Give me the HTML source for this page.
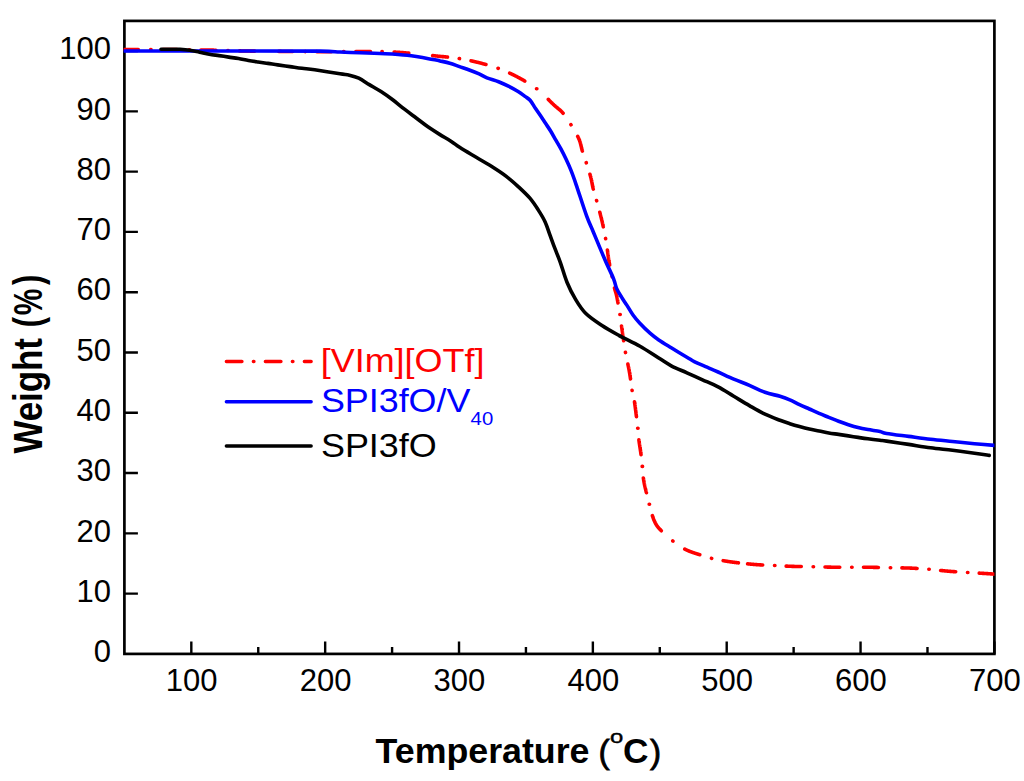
<!DOCTYPE html>
<html><head><meta charset="utf-8"><style>
html,body{margin:0;padding:0;background:#fff;width:1024px;height:781px;overflow:hidden;}
svg{display:block;font-family:"Liberation Sans",sans-serif;}
</style></head><body>
<svg width="1024" height="781" viewBox="0 0 1024 781">
<rect width="1024" height="781" fill="#fff"/>
<defs><clipPath id="cp"><rect x="123.60" y="20.90" width="870.80" height="633.00"/></clipPath></defs>
<path d="M191.32,653.90V641.40M325.17,653.90V641.40M459.02,653.90V641.40M592.86,653.90V641.40M726.71,653.90V641.40M860.55,653.90V641.40M994.40,653.90V641.40M258.25,653.90V646.90M392.09,653.90V646.90M525.94,653.90V646.90M659.78,653.90V646.90M793.63,653.90V646.90M927.48,653.90V646.90M124.40,593.61H137.90M124.40,533.33H137.90M124.40,473.04H137.90M124.40,412.76H137.90M124.40,352.47H137.90M124.40,292.19H137.90M124.40,231.90H137.90M124.40,171.61H137.90M124.40,111.33H137.90M124.40,51.04H137.90" stroke="#000" stroke-width="2.4" fill="none"/>
<rect x="124.40" y="20.90" width="870.00" height="633.00" fill="none" stroke="#000" stroke-width="2.7"/>
<g clip-path="url(#cp)" fill="none" stroke-linejoin="round">
<path d="M124.40,49.50L124.71,49.50L125.04,49.50L125.38,49.50L125.75,49.50L126.14,49.50L126.54,49.50L126.97,49.50L127.41,49.50L127.86,49.50L128.34,49.50L128.83,49.50L129.33,49.50L129.85,49.49L130.38,49.49L130.93,49.49L131.49,49.49L132.06,49.49L132.64,49.49L133.23,49.49L133.84,49.49L134.45,49.49L135.07,49.49L135.71,49.49L136.35,49.49L136.99,49.48L137.65,49.48L138.31,49.48M150.66,49.48h0.4M162.71,49.51L163.25,49.52L163.78,49.52L164.32,49.52L164.85,49.53L165.38,49.53L165.91,49.54L166.44,49.54L166.96,49.54L167.49,49.55L168.01,49.55L168.53,49.56L169.05,49.56L169.57,49.56L170.09,49.57L170.60,49.57L171.11,49.58L171.62,49.58L172.13,49.59L172.64,49.59L173.15,49.60L173.66,49.60L174.16,49.61L174.66,49.61L175.16,49.62L175.66,49.62L176.16,49.63L176.66,49.64L177.15,49.64M189.08,49.79h0.4M200.92,49.95L201.31,49.95L201.71,49.96L202.10,49.96L202.50,49.97L202.90,49.97L203.29,49.98L203.69,49.99L204.08,49.99L204.48,50.00L204.88,50.01L205.28,50.01L205.68,50.02L206.08,50.03L206.48,50.03L206.88,50.04L207.29,50.05L207.70,50.05L208.11,50.06L208.52,50.07L208.93,50.08L209.34,50.08L209.76,50.09L210.18,50.10L210.60,50.11L211.03,50.12L211.45,50.13L211.89,50.13L212.32,50.14L212.76,50.15L213.20,50.16L213.64,50.17L214.09,50.18L214.54,50.19L215.00,50.20L215.46,50.21L215.91,50.22M227.80,50.56h0.4M239.64,50.89L240.21,50.91L240.79,50.92L241.37,50.93L241.96,50.94L242.55,50.95L243.16,50.97L243.76,50.98L244.38,50.99L245.00,51.00L245.63,51.01L246.27,51.02L246.92,51.03L247.57,51.04L248.24,51.05L248.91,51.06L249.60,51.07L250.29,51.08L250.98,51.09L251.69,51.10L252.40,51.11L253.12,51.12L253.84,51.13L254.58,51.14M278.75,51.40L279.53,51.41L280.31,51.42L281.08,51.42L281.85,51.43L282.62,51.44L283.38,51.44L284.13,51.45L284.89,51.46L285.63,51.46L286.38,51.47L287.11,51.48L287.84,51.48L288.57,51.49L289.29,51.49L290.00,51.50L290.71,51.51L291.41,51.51L292.11,51.52L292.81,51.52M305.03,51.61h0.4M316.85,51.67L317.50,51.68L318.16,51.68L318.81,51.68L319.46,51.68L320.12,51.69L320.77,51.69L321.43,51.69L322.08,51.69L322.74,51.69L323.39,51.69L324.05,51.69L324.71,51.70L325.36,51.70L326.02,51.70L326.68,51.70L327.34,51.70L328.01,51.70L328.67,51.70L329.33,51.70L330.00,51.70L330.67,51.70L331.35,51.70M343.55,51.66h0.4M355.86,51.58L356.55,51.57L357.24,51.57L357.91,51.56L358.59,51.56L359.25,51.55L359.90,51.55L360.55,51.55L361.19,51.54L361.82,51.54L362.44,51.53L363.06,51.53L363.66,51.53L364.25,51.52L364.83,51.52L365.40,51.52L365.96,51.51L366.51,51.51L367.05,51.51L367.57,51.51L368.09,51.51L368.58,51.50L369.07,51.50L369.54,51.50L370.00,51.50L370.44,51.50M381.96,51.52L382.20,51.53M394.14,52.07L394.53,52.09L394.91,52.12L395.30,52.14L395.69,52.16L396.09,52.19L396.48,52.21L396.88,52.23L397.29,52.26L397.69,52.28L398.10,52.31L398.51,52.34L398.92,52.36L399.34,52.39L399.76,52.42L400.18,52.45L400.60,52.48L401.03,52.51L401.46,52.54L401.89,52.57L402.33,52.60L402.77,52.64L403.21,52.67L403.65,52.70L404.10,52.74L404.55,52.77L405.00,52.81L405.45,52.85L405.91,52.88L406.37,52.92L406.83,52.96L407.30,53.00L407.77,53.04L408.26,53.08L408.76,53.13M432.65,55.60L433.20,55.66L433.73,55.71L434.25,55.77L434.77,55.83L435.27,55.88L435.76,55.93L436.24,55.98L436.70,56.03L437.15,56.08L437.59,56.13L438.01,56.17L438.41,56.22L438.81,56.26L439.18,56.30L439.54,56.33L439.88,56.37L440.20,56.40L440.50,56.43L440.79,56.46L441.06,56.49L441.31,56.51L441.55,56.53L441.77,56.56L441.97,56.57L442.16,56.59L442.34,56.61L442.50,56.62L442.65,56.64L442.79,56.65L442.91,56.66L443.02,56.67L443.13,56.68L443.22,56.69L443.30,56.69L443.37,56.70L443.43,56.70L443.49,56.70L443.54,56.71L443.58,56.71L443.61,56.71L443.64,56.71L443.66,56.71L443.67,56.71L443.68,56.71L443.69,56.70L443.69,56.70L443.69,56.70L443.69,56.70L443.69,56.69L443.68,56.69L443.67,56.69L443.67,56.69L443.66,56.68L443.65,56.68L443.65,56.68L443.65,56.68L443.64,56.67L443.65,56.67L443.65,56.67L443.66,56.67L443.67,56.67L443.69,56.67L443.71,56.67L443.74,56.68L443.78,56.68L443.82,56.68L443.87,56.69L443.93,56.69L443.99,56.70L444.07,56.71L444.16,56.72L444.25,56.73L444.36,56.74L444.48,56.75L444.60,56.77L444.75,56.78L444.90,56.80L445.06,56.82L445.23,56.84L445.40,56.86L445.58,56.87L445.75,56.89L445.94,56.91L446.12,56.93L446.31,56.95L446.51,56.97L446.70,56.99L446.90,57.01L447.11,57.03L447.31,57.05L447.52,57.08M459.22,58.55L459.50,58.60M471.03,60.82L471.37,60.89L471.71,60.97L472.05,61.04L472.39,61.11L472.73,61.19L473.07,61.27L473.41,61.34L473.75,61.42L474.09,61.49L474.43,61.57L474.77,61.65L475.11,61.73L475.44,61.81L475.78,61.89L476.12,61.97L476.45,62.05L476.79,62.13L477.12,62.21L477.45,62.29L477.79,62.37L478.12,62.45L478.45,62.53L478.77,62.62L479.10,62.70L479.43,62.78L479.75,62.87L480.08,62.95L480.40,63.04L480.73,63.12L481.05,63.20L481.38,63.29L481.71,63.37L482.03,63.46L482.36,63.55L482.68,63.63L483.01,63.72L483.33,63.81L483.66,63.89L483.98,63.98L484.31,64.07L484.63,64.16L484.96,64.25L485.28,64.34L485.61,64.43L485.93,64.52M497.95,68.36h0.4M509.64,73.13L509.97,73.28L510.29,73.43L510.62,73.58L510.94,73.73L511.27,73.88L511.59,74.03L511.92,74.18L512.24,74.34L512.57,74.49L512.89,74.65L513.22,74.81L513.54,74.96L513.87,75.12L514.19,75.28L514.52,75.45L514.84,75.61L515.17,75.77L515.49,75.94L515.82,76.10L516.15,76.27L516.47,76.44L516.80,76.61L517.12,76.78L517.45,76.95L517.77,77.13L518.10,77.30L518.43,77.48L518.75,77.65L519.08,77.83L519.41,78.01L519.74,78.19L520.07,78.37L520.40,78.55L520.74,78.74L521.07,78.92L521.40,79.11L521.74,79.30L522.07,79.48L522.40,79.67L522.74,79.86L523.07,80.05L523.41,80.25L523.75,80.44L524.08,80.63L524.42,80.83L524.76,81.03M536.49,88.69h0.4M548.30,99.36L548.57,99.63L548.83,99.89L549.09,100.15L549.35,100.41L549.60,100.67L549.86,100.93L550.11,101.18L550.36,101.43L550.60,101.68L550.85,101.93L551.09,102.17L551.33,102.41L551.57,102.64L551.80,102.88L552.04,103.11L552.27,103.33L552.49,103.55L552.72,103.77L552.94,103.99L553.16,104.20L553.38,104.40L553.59,104.60L553.80,104.80L554.01,104.99L554.21,105.18L554.41,105.36L554.61,105.54L554.80,105.71L554.99,105.88L555.18,106.05L555.36,106.21L555.54,106.37L555.72,106.52L555.90,106.67L556.07,106.82L556.24,106.96L556.41,107.10L556.57,107.24L556.73,107.38L556.89,107.51L557.05,107.64L557.21,107.77L557.36,107.89L557.51,108.02L557.66,108.14L557.81,108.26L557.95,108.38L558.10,108.50L558.24,108.61L558.38,108.73L558.52,108.84L558.66,108.96L558.80,109.07L558.94,109.18L559.07,109.29L559.21,109.41L559.34,109.52L559.47,109.63L559.61,109.74L559.74,109.85L559.87,109.97L560.00,110.08L560.13,110.20L560.26,110.31L560.39,110.43L560.52,110.55L560.65,110.67L560.78,110.79L560.91,110.91L561.04,111.04L561.17,111.16L561.30,111.29L561.43,111.42L561.57,111.56L561.70,111.69L561.83,111.83L561.97,111.98L562.10,112.12L562.24,112.27L562.38,112.42L562.52,112.58L562.66,112.74L562.80,112.90L562.94,113.07L563.08,113.23M570.90,124.60L571.03,124.82M577.70,136.35L577.82,136.58L577.94,136.82L578.05,137.06L578.17,137.29L578.28,137.53L578.39,137.76L578.49,137.99L578.60,138.22L578.70,138.45L578.80,138.68L578.90,138.90L579.00,139.12L579.09,139.35L579.18,139.57L579.27,139.79L579.35,140.02L579.44,140.24L579.52,140.46L579.60,140.68L579.68,140.90L579.75,141.12L579.83,141.34L579.90,141.56L579.97,141.78L580.04,142.00L580.11,142.21L580.18,142.43L580.24,142.65L580.30,142.86L580.37,143.08L580.43,143.30L580.49,143.51L580.54,143.73L580.60,143.94L580.66,144.15L580.71,144.37L580.77,144.58L580.82,144.79L580.87,145.00L580.92,145.21L580.97,145.43L581.03,145.64L581.08,145.84L581.13,146.05L581.17,146.26L581.22,146.47L581.27,146.68L581.32,146.89L581.37,147.09L581.42,147.30L581.46,147.50L581.51,147.71L581.56,147.91L581.61,148.12L581.65,148.32L581.70,148.52L581.75,148.73L581.80,148.93L581.85,149.13L581.90,149.33L581.95,149.53L582.00,149.73L582.05,149.93L582.11,150.13L582.16,150.32L582.21,150.52L582.27,150.72L582.33,150.91L582.38,151.11M586.24,162.62L586.31,162.84M589.94,174.27L590.01,174.51L590.08,174.75L590.15,174.98L590.22,175.22L590.29,175.45L590.35,175.69L590.41,175.92L590.48,176.15L590.54,176.37L590.60,176.60L590.66,176.82L590.72,177.05L590.78,177.27L590.83,177.49L590.89,177.71L590.94,177.93L590.99,178.15L591.05,178.37L591.10,178.59L591.15,178.81L591.20,179.03L591.25,179.24L591.30,179.46L591.34,179.67L591.39,179.89L591.44,180.10L591.48,180.32L591.53,180.53L591.57,180.74L591.61,180.96L591.66,181.17L591.70,181.38L591.74,181.59L591.79,181.80L591.83,182.01L591.87,182.22L591.91,182.43L591.95,182.63L591.99,182.84L592.03,183.05L592.07,183.26L592.11,183.46L592.15,183.67L592.19,183.87L592.23,184.08L592.27,184.28L592.31,184.49L592.35,184.69L592.39,184.90L592.43,185.10L592.47,185.30L592.51,185.51L592.55,185.71L592.59,185.91L592.63,186.11L592.67,186.31L592.71,186.51L592.76,186.71L592.80,186.91L592.84,187.11L592.89,187.31L592.93,187.51L592.97,187.71L593.02,187.91L593.06,188.11L593.11,188.31L593.16,188.51L593.20,188.70L593.25,188.90L593.30,189.10M596.57,200.57L596.65,200.84M599.79,212.28L599.89,212.65L599.99,213.02L600.09,213.39L600.19,213.76L600.28,214.13L600.38,214.51L600.48,214.88L600.57,215.25L600.67,215.62L600.76,215.99L600.86,216.35L600.95,216.72L601.05,217.09L601.14,217.45L601.23,217.81L601.32,218.18L601.41,218.54L601.50,218.90L601.58,219.25L601.67,219.61L601.75,219.96L601.84,220.31L601.92,220.66L602.00,221.00L602.08,221.34L602.16,221.69L602.24,222.03L602.32,222.37L602.39,222.72L602.47,223.06L602.55,223.40L602.63,223.74L602.70,224.09L602.78,224.43L602.85,224.77L602.93,225.11L603.00,225.45L603.08,225.80L603.15,226.14L603.22,226.48L603.30,226.82M605.56,238.43L605.62,238.77M607.38,250.01L607.43,250.37L607.48,250.73L607.53,251.09L607.58,251.44L607.63,251.80L607.67,252.16L607.72,252.51L607.77,252.86L607.82,253.22L607.87,253.57L607.91,253.92L607.96,254.27L608.01,254.62L608.05,254.96L608.10,255.31L608.15,255.65L608.20,255.99L608.24,256.33L608.29,256.66L608.34,257.00L608.38,257.33L608.43,257.66L608.48,257.99L608.52,258.32L608.57,258.64L608.62,258.96L608.67,259.28L608.71,259.59L608.76,259.90L608.81,260.21L608.86,260.52L608.91,260.82L608.95,261.12L609.00,261.42L609.05,261.71L609.10,262.00L609.15,262.29L609.20,262.57L609.25,262.85L609.30,263.13L609.35,263.40L609.40,263.67L609.45,263.94L609.49,264.21L609.54,264.47L609.59,264.73L609.64,264.99M612.09,276.43L612.13,276.65M614.50,288.00L614.54,288.17L614.58,288.34L614.62,288.51L614.66,288.67L614.70,288.83L614.74,288.98L614.78,289.14L614.82,289.29L614.86,289.43L614.90,289.58L614.94,289.72L614.98,289.86L615.02,290.00L615.06,290.13L615.10,290.27L615.13,290.40L615.17,290.53L615.21,290.66L615.25,290.79L615.29,290.92L615.33,291.05L615.37,291.17L615.40,291.30L615.44,291.42L615.48,291.55L615.52,291.67L615.56,291.80L615.60,291.92L615.64,292.05L615.67,292.18L615.71,292.30L615.75,292.43L615.79,292.56L615.83,292.69L615.87,292.82L615.91,292.95L615.95,293.09L615.99,293.22L616.03,293.36L616.07,293.50L616.11,293.65L616.15,293.79L616.19,293.94L616.23,294.09L616.27,294.24L616.31,294.40L616.35,294.56L616.39,294.72L616.43,294.89L616.47,295.06L616.51,295.23L616.56,295.41L616.60,295.59L616.64,295.78L616.68,295.97L616.73,296.17L616.77,296.37L616.81,296.57L616.86,296.78L616.90,297.00L616.94,297.22L616.99,297.44L617.03,297.67L617.08,297.90L617.12,298.14L617.17,298.38L617.22,298.62L617.26,298.87L617.31,299.12L617.36,299.37L617.40,299.62L617.45,299.88L617.50,300.14L617.54,300.41L617.59,300.68L617.64,300.95L617.69,301.22L617.74,301.49L617.78,301.77L617.83,302.05L617.88,302.33L617.93,302.62L617.98,302.91M619.85,314.50h0.4M621.52,325.95L621.57,326.27L621.62,326.60L621.66,326.93L621.71,327.25L621.76,327.58L621.80,327.90L621.85,328.23L621.90,328.55L621.94,328.88L621.99,329.20L622.04,329.53L622.08,329.85L622.13,330.18L622.18,330.50L622.22,330.82L622.27,331.15L622.32,331.47L622.36,331.79L622.41,332.12L622.46,332.44L622.51,332.76L622.55,333.08L622.60,333.40L622.65,333.72L622.69,334.04L622.74,334.36L622.79,334.68L622.83,335.00L622.88,335.32L622.93,335.64L622.97,335.96L623.02,336.28L623.07,336.60L623.11,336.92L623.16,337.24L623.20,337.56L623.25,337.88L623.29,338.20L623.34,338.52L623.39,338.84L623.43,339.16L623.48,339.48L623.52,339.80L623.57,340.12L623.61,340.44L623.66,340.76M625.44,352.28L625.50,352.60M627.87,364.12L627.94,364.44L628.01,364.76L628.08,365.08L628.14,365.40L628.21,365.72L628.28,366.04L628.35,366.36L628.41,366.68L628.48,367.00L628.54,367.32L628.61,367.64L628.67,367.96L628.74,368.28L628.80,368.60L628.87,368.92L628.93,369.24L628.99,369.56L629.05,369.88L629.11,370.20L629.17,370.52L629.23,370.84L629.29,371.16L629.34,371.48L629.40,371.80L629.46,372.12L629.51,372.45L629.57,372.77L629.62,373.10L629.67,373.43L629.73,373.77L629.78,374.10L629.83,374.44L629.89,374.78L629.94,375.12L629.99,375.46L630.04,375.80L630.09,376.15L630.15,376.49L630.20,376.84L630.25,377.19L630.30,377.53L630.35,377.88L630.40,378.23L630.44,378.58L630.49,378.93M632.08,390.27L632.12,390.52M634.49,401.86L634.53,402.10L634.57,402.35L634.60,402.60L634.64,402.86L634.68,403.11L634.72,403.37L634.75,403.63L634.79,403.90L634.83,404.17L634.87,404.44L634.91,404.71L634.94,404.98L634.98,405.26L635.02,405.54L635.06,405.82L635.10,406.10L635.14,406.39L635.18,406.67L635.21,406.96L635.25,407.26L635.29,407.55L635.33,407.84L635.37,408.14L635.41,408.44L635.45,408.74L635.49,409.04L635.53,409.35L635.57,409.65L635.60,409.96L635.64,410.27L635.68,410.57L635.72,410.89L635.76,411.20L635.80,411.51L635.84,411.82L635.88,412.14L635.92,412.46L635.96,412.77L636.00,413.09L636.04,413.41L636.07,413.73L636.11,414.05L636.15,414.38L636.19,414.70L636.23,415.02L636.27,415.35L636.31,415.67L636.35,416.00L636.38,416.32L636.42,416.65M637.65,428.32h0.4M638.88,439.82L638.91,440.13L638.95,440.43L638.99,440.72L639.03,441.01L639.07,441.30L639.11,441.58L639.14,441.86L639.18,442.14L639.22,442.41L639.26,442.68L639.30,442.95L639.34,443.21L639.37,443.47L639.41,443.73L639.45,443.99L639.49,444.24L639.53,444.49L639.57,444.74L639.60,444.99L639.64,445.24L639.68,445.48L639.72,445.73L639.76,445.97L639.80,446.21L639.84,446.46L639.87,446.70L639.91,446.94L639.95,447.18L639.99,447.42L640.03,447.67L640.07,447.91L640.10,448.15L640.14,448.40L640.18,448.64L640.22,448.89L640.26,449.14L640.30,449.39L640.33,449.64L640.37,449.89L640.41,450.15L640.45,450.40L640.49,450.66L640.53,450.93L640.56,451.19L640.60,451.46L640.64,451.73L640.68,452.01L640.72,452.28L640.75,452.57L640.79,452.85L640.83,453.14L640.87,453.44L640.91,453.74L640.95,454.04L640.99,454.35L641.02,454.66M642.15,466.39h0.4M643.35,477.97L643.40,478.30L643.45,478.62L643.50,478.94L643.54,479.26L643.59,479.57L643.64,479.88L643.69,480.18L643.74,480.48L643.79,480.77L643.84,481.07L643.89,481.35L643.94,481.64L643.99,481.92L644.04,482.20L644.09,482.48L644.14,482.75L644.19,483.03L644.25,483.29L644.30,483.56L644.35,483.83L644.40,484.09L644.46,484.35L644.51,484.61L644.56,484.87L644.62,485.12L644.67,485.38L644.73,485.63L644.78,485.88L644.84,486.13L644.89,486.38L644.95,486.63L645.01,486.88L645.06,487.13L645.12,487.38L645.18,487.62L645.24,487.87L645.29,488.12L645.35,488.37L645.41,488.61L645.47,488.86L645.53,489.11L645.59,489.36L645.65,489.61L645.71,489.86L645.77,490.11L645.83,490.37L645.89,490.62L645.96,490.88L646.02,491.14L646.08,491.40L646.15,491.66L646.21,491.92L646.27,492.19L646.34,492.45L646.40,492.72M649.16,504.27h0.4M652.39,515.70L652.46,515.92L652.53,516.14L652.60,516.35L652.67,516.56L652.74,516.77L652.81,516.97L652.89,517.18L652.96,517.38L653.03,517.58L653.10,517.78L653.17,517.98L653.24,518.17L653.31,518.37L653.38,518.56L653.45,518.75L653.52,518.93L653.59,519.12L653.66,519.31L653.73,519.49L653.81,519.67L653.88,519.85L653.95,520.03L654.03,520.21L654.10,520.39L654.17,520.56L654.25,520.74L654.32,520.91L654.40,521.09L654.48,521.26L654.55,521.43L654.63,521.60L654.71,521.77L654.79,521.94L654.87,522.10L654.95,522.27L655.03,522.44L655.12,522.60L655.20,522.77L655.29,522.93L655.37,523.10L655.46,523.26L655.55,523.42L655.64,523.59L655.73,523.75L655.82,523.91L655.91,524.07L656.00,524.24L656.10,524.40L656.20,524.56L656.29,524.72L656.39,524.88L656.49,525.03L656.59,525.19L656.69,525.34L656.79,525.49L656.89,525.64L656.99,525.79L657.09,525.93L657.19,526.08L657.30,526.22L657.40,526.36L657.50,526.50L657.61,526.64L657.72,526.78L657.82,526.92L657.93,527.05L658.04,527.19L658.14,527.32L658.25,527.45L658.36,527.59L658.47,527.72L658.58,527.85L658.70,527.98L658.81,528.10L658.92,528.23L659.03,528.36L659.15,528.49L659.26,528.61L659.38,528.74L659.49,528.86L659.61,528.99L659.73,529.11L659.85,529.24L659.96,529.36L660.08,529.48L660.20,529.61L660.32,529.73L660.44,529.86L660.57,529.98L660.69,530.10L660.81,530.23L660.94,530.35L661.06,530.47L661.18,530.60L661.31,530.72M672.78,540.94L672.98,541.09M684.75,549.05L685.00,549.18L685.25,549.32L685.50,549.45L685.75,549.57L686.00,549.70L686.25,549.82L686.50,549.95L686.76,550.07L687.02,550.19L687.28,550.31L687.55,550.43L687.81,550.55L688.08,550.67L688.35,550.78L688.63,550.90L688.90,551.01L689.18,551.12L689.45,551.24L689.73,551.35L690.02,551.46L690.30,551.57L690.58,551.67L690.87,551.78L691.15,551.89L691.44,551.99L691.72,552.10L692.01,552.20L692.30,552.30L692.59,552.40L692.87,552.50L693.16,552.60L693.45,552.70L693.74,552.80L694.03,552.90L694.31,552.99L694.60,553.09L694.88,553.18L695.17,553.28L695.45,553.37L695.74,553.46L696.02,553.55L696.30,553.64L696.58,553.73L696.85,553.82L697.13,553.91L697.40,553.99L697.68,554.08L697.95,554.17L698.21,554.25L698.48,554.33L698.74,554.42L699.00,554.50L699.26,554.58L699.51,554.66L699.77,554.74M711.46,558.35L711.70,558.40M723.16,560.66L723.51,560.72L723.86,560.78L724.21,560.84L724.56,560.90L724.91,560.96L725.26,561.02L725.62,561.07L725.97,561.13L726.33,561.19L726.68,561.25L727.04,561.31L727.40,561.36L727.76,561.42L728.12,561.47L728.48,561.53L728.84,561.58L729.20,561.64L729.56,561.69L729.92,561.74L730.28,561.80L730.64,561.85L731.00,561.90L731.36,561.95L731.73,562.00L732.10,562.05L732.47,562.10L732.85,562.15L733.23,562.20L733.61,562.25L734.00,562.30L734.39,562.35L734.78,562.40L735.18,562.45L735.58,562.50L735.98,562.55L736.38,562.60L736.78,562.65L737.19,562.70L737.60,562.75L738.01,562.80L738.42,562.84M747.59,563.83L748.00,563.87L748.41,563.91L748.82,563.94L749.23,563.98L749.63,564.02L750.03,564.06L750.43,564.10L750.83,564.13L751.22,564.17L751.62,564.21L752.00,564.24L752.39,564.27L752.77,564.31L753.15,564.34L753.53,564.37L753.90,564.41L754.27,564.44L754.64,564.47L755.00,564.50L755.36,564.53L755.71,564.56L756.07,564.59L756.42,564.61L756.77,564.64L757.11,564.67L757.46,564.69L757.80,564.71L758.14,564.74L758.48,564.76L758.81,564.78L759.14,564.80L759.48,564.82L759.80,564.85L760.13,564.86L760.46,564.88L760.78,564.90L761.11,564.92L761.43,564.94L761.75,564.96L762.07,564.97L762.38,564.99L762.70,565.00M774.52,565.52h0.4M786.17,566.10L786.49,566.12L786.82,566.13L787.14,566.15L787.46,566.16L787.79,566.18L788.11,566.19L788.44,566.21L788.76,566.22L789.08,566.23L789.41,566.25L789.73,566.26L790.05,566.27L790.38,566.29L790.70,566.30L791.02,566.31L791.34,566.32L791.67,566.33L791.99,566.35L792.31,566.36L792.63,566.37L792.96,566.38L793.28,566.39L793.60,566.40L793.92,566.41L794.24,566.42L794.56,566.43L794.88,566.44L795.21,566.45L795.53,566.45L795.85,566.46L796.17,566.47L796.49,566.48L796.80,566.48L797.12,566.49L797.44,566.50L797.76,566.50L798.08,566.51L798.40,566.51L798.72,566.52L799.04,566.52L799.36,566.53L799.67,566.53L799.99,566.54L800.31,566.54L800.63,566.55L800.95,566.55L801.27,566.55M813.13,566.71h0.4M825.01,567.03L825.34,567.04L825.68,567.05L826.01,567.06L826.34,567.06L826.67,567.07L827.00,567.08L827.33,567.09L827.66,567.10L827.99,567.11L828.33,567.11L828.66,567.12L828.99,567.13L829.32,567.14L829.65,567.14L829.98,567.15L830.30,567.16L830.63,567.17L830.96,567.17L831.29,567.18L831.62,567.18L831.95,567.19L832.27,567.19L832.60,567.20L832.93,567.20L833.25,567.21L833.58,567.21L833.91,567.22L834.23,567.22L834.56,567.23L834.88,567.23L835.21,567.23L835.53,567.24L835.86,567.24L836.18,567.24L836.51,567.25L836.83,567.25L837.16,567.25L837.48,567.26L837.80,567.26L838.13,567.26L838.45,567.26L838.78,567.26L839.10,567.27L839.42,567.27L839.75,567.27M851.68,567.30h0.4M863.51,567.27L863.83,567.27L864.15,567.27L864.48,567.27L864.80,567.27L865.12,567.27L865.44,567.27L865.76,567.27L866.08,567.27L866.41,567.27L866.73,567.27L867.05,567.27L867.38,567.27L867.70,567.27L868.03,567.27L868.35,567.27L868.68,567.28L869.00,567.28L869.33,567.28L869.66,567.28L869.98,567.29L870.31,567.29L870.64,567.29L870.97,567.30L871.30,567.30L871.63,567.30L871.96,567.31L872.29,567.31L872.63,567.32L872.96,567.32L873.30,567.33L873.63,567.34L873.97,567.34L874.31,567.35L874.64,567.36L874.98,567.36L875.32,567.37L875.66,567.38L876.00,567.39L876.34,567.39L876.68,567.40L877.02,567.41L877.37,567.42L877.71,567.43L878.05,567.44L878.39,567.45M890.29,567.77h0.4M901.92,567.91L902.23,567.91L902.53,567.91L902.84,567.92L903.15,567.92L903.45,567.92L903.76,567.93L904.07,567.93L904.37,567.94L904.68,567.94L904.99,567.95L905.30,567.95L905.61,567.96L905.92,567.97L906.22,567.97L906.53,567.98L906.84,567.99L907.16,567.99L907.47,568.00L907.78,568.01L908.09,568.02L908.40,568.03L908.72,568.04L909.03,568.05L909.35,568.06L909.67,568.07L909.98,568.09L910.30,568.10L910.62,568.11L910.94,568.13L911.26,568.14L911.58,568.16L911.90,568.17L912.22,568.19L912.54,568.20L912.86,568.22L913.18,568.24L913.50,568.25L913.82,568.27L914.15,568.29L914.47,568.30L914.79,568.32L915.12,568.34L915.44,568.36L915.76,568.38L916.09,568.40L916.41,568.42L916.74,568.44L917.06,568.46M928.82,569.32h0.4M940.64,570.46L940.96,570.49L941.29,570.53L941.62,570.56L941.95,570.60L942.28,570.63L942.60,570.66L942.93,570.70L943.26,570.73L943.58,570.76L943.91,570.80L944.24,570.83L944.56,570.86L944.89,570.89L945.21,570.92L945.54,570.96L945.86,570.99L946.18,571.02L946.51,571.05L946.83,571.08L947.15,571.11L947.48,571.14L947.80,571.16L948.12,571.19L948.44,571.22L948.76,571.25L949.08,571.27L949.40,571.30L949.72,571.33L950.04,571.35L950.36,571.38L950.67,571.40L950.99,571.42L951.31,571.45L951.62,571.47L951.94,571.50L952.25,571.52L952.57,571.54L952.88,571.56L953.20,571.59L953.51,571.61L953.82,571.63L954.14,571.65L954.45,571.67L954.76,571.69L955.07,571.71L955.38,571.74L955.70,571.76M967.48,572.46h0.4M979.23,573.15L979.56,573.17L979.89,573.19L980.22,573.21L980.54,573.23L980.86,573.25L981.18,573.26L981.50,573.28L981.81,573.30L982.12,573.32L982.42,573.33L982.72,573.35L983.02,573.37L983.31,573.39L983.60,573.40L983.89,573.42L984.17,573.44L984.44,573.45L984.71,573.47L984.98,573.48L985.24,573.50L985.49,573.51L985.74,573.53L985.99,573.54L986.22,573.56L986.46,573.57L986.68,573.59L986.90,573.60L987.11,573.61L987.32,573.63L987.53,573.64L987.73,573.65L987.92,573.66L988.12,573.68L988.30,573.69L988.49,573.70L988.67,573.71L988.84,573.72L989.01,573.74L989.18,573.75L989.35,573.76L989.51,573.77L989.66,573.78L989.82,573.79L989.97,573.80L990.11,573.81L990.26,573.82L990.40,573.83L990.53,573.84L990.67,573.85L990.80,573.86L990.92,573.87L991.05,573.88L991.17,573.89L991.29,573.89L991.40,573.90L991.51,573.91L991.62,573.92L991.73,573.93L991.84,573.93L991.94,573.94L992.04,573.95L992.14,573.96L992.23,573.96L992.33,573.97L992.42,573.98L992.51,573.99L992.59,573.99L992.68,574.00L992.76,574.01L992.84,574.01L992.92,574.02L993.00,574.02L993.07,574.03L993.15,574.04L993.22,574.04L993.29,574.05L993.36,574.05L993.43,574.06L993.50,574.06L993.57,574.07L993.63,574.07L993.69,574.08L993.76,574.08L993.82,574.09L993.88,574.09L993.94,574.10L994.00,574.10" stroke="#ff0000" stroke-width="3.6" stroke-linecap="round"/>
<path d="M124.40,51.00 C145.33,51.00 217.40,50.98 250.00,51.00 C282.60,51.02 305.00,50.93 320.00,51.10 C335.00,51.27 333.33,51.72 340.00,52.00 C346.67,52.28 353.33,52.55 360.00,52.80 C366.67,53.05 372.12,53.08 380.00,53.50 C387.88,53.92 398.18,54.25 407.30,55.30 C416.42,56.35 429.25,58.87 434.70,59.80 C440.15,60.73 437.48,60.33 440.00,60.90 C442.52,61.47 446.55,62.25 449.80,63.20 C453.05,64.15 456.25,65.47 459.50,66.60 C462.75,67.73 466.03,68.78 469.30,70.00 C472.57,71.22 476.17,72.60 479.10,73.90 C482.03,75.20 483.65,76.50 486.90,77.80 C490.15,79.10 495.02,80.32 498.60,81.70 C502.18,83.08 505.15,84.47 508.40,86.10 C511.65,87.73 515.33,89.78 518.10,91.50 C520.87,93.22 523.00,94.95 525.00,96.40 C527.00,97.85 528.40,98.28 530.10,100.20 C531.80,102.12 533.48,105.33 535.20,107.90 C536.92,110.47 538.68,113.03 540.40,115.60 C542.12,118.17 543.80,120.73 545.50,123.30 C547.20,125.87 548.90,128.23 550.60,131.00 C552.30,133.77 553.98,136.92 555.70,139.90 C557.42,142.88 559.18,145.70 560.90,148.90 C562.62,152.10 564.30,155.47 566.00,159.10 C567.70,162.73 569.40,166.42 571.10,170.70 C572.80,174.98 573.62,177.27 576.20,184.80 C578.78,192.33 583.80,208.17 586.60,215.90 C589.40,223.63 590.87,226.08 593.00,231.20 C595.13,236.32 597.25,241.48 599.40,246.60 C601.55,251.72 603.55,256.57 605.90,261.90 C608.25,267.23 611.72,274.18 613.50,278.60 C615.28,283.02 615.23,285.27 616.60,288.40 C617.97,291.53 620.00,294.62 621.70,297.40 C623.40,300.18 624.88,302.12 626.80,305.10 C628.72,308.08 631.07,312.32 633.20,315.30 C635.33,318.28 636.80,320.02 639.60,323.00 C642.40,325.98 646.81,330.37 650.00,333.20 C653.19,336.03 655.21,337.57 658.75,340.00 C662.29,342.43 666.56,344.93 671.25,347.80 C675.94,350.67 682.99,354.85 686.90,357.20 C690.81,359.55 691.58,360.33 694.70,361.90 C697.82,363.47 701.70,364.92 705.60,366.60 C709.50,368.28 713.41,369.92 718.10,372.00 C722.79,374.08 728.53,376.88 733.75,379.10 C738.97,381.32 744.19,383.10 749.40,385.30 C754.61,387.50 759.90,390.47 765.00,392.30 C770.10,394.13 775.87,395.05 780.00,396.30 C784.13,397.55 786.55,398.42 789.80,399.80 C793.05,401.18 796.25,403.07 799.50,404.60 C802.75,406.13 806.03,407.53 809.30,409.00 C812.57,410.47 815.85,412.02 819.10,413.40 C822.35,414.78 825.55,415.99 828.80,417.30 C832.05,418.61 835.33,420.02 838.60,421.25 C841.87,422.48 845.15,423.64 848.40,424.70 C851.65,425.76 854.85,426.78 858.10,427.60 C861.35,428.42 864.25,428.95 867.90,429.60 C871.55,430.25 876.88,430.87 880.00,431.50 C883.12,432.13 881.83,432.58 886.60,433.40 C891.37,434.22 901.27,435.42 908.60,436.40 C915.93,437.38 923.28,438.45 930.60,439.30 C937.92,440.15 945.18,440.77 952.50,441.50 C959.82,442.23 967.53,443.05 974.50,443.70 C981.47,444.35 991.00,445.12 994.30,445.40" stroke="#0000ff" stroke-width="3.6" stroke-linecap="round"/>
<path d="M161.00,49.20 C163.33,49.20 171.83,49.18 175.00,49.20 C178.17,49.22 177.53,49.12 180.00,49.30 C182.47,49.48 186.55,49.82 189.80,50.30 C193.05,50.78 196.25,51.55 199.50,52.20 C202.75,52.85 206.03,53.63 209.30,54.20 C212.57,54.77 215.85,55.12 219.10,55.60 C222.35,56.08 225.55,56.60 228.80,57.10 C232.05,57.60 235.33,58.03 238.60,58.60 C241.87,59.17 245.15,59.93 248.40,60.50 C251.65,61.07 254.85,61.52 258.10,62.00 C261.35,62.48 264.63,62.92 267.90,63.40 C271.17,63.88 274.02,64.37 277.70,64.90 C281.38,65.43 285.95,66.03 290.00,66.60 C294.05,67.17 297.88,67.77 302.00,68.30 C306.12,68.83 308.37,68.88 314.70,69.80 C321.03,70.72 334.22,72.90 340.00,73.80 C345.78,74.70 346.27,74.47 349.40,75.20 C352.53,75.93 355.48,76.63 358.80,78.20 C362.12,79.77 365.60,82.37 369.30,84.60 C373.00,86.83 377.10,89.07 381.00,91.60 C384.90,94.13 388.78,96.87 392.70,99.80 C396.62,102.73 400.58,106.17 404.50,109.20 C408.42,112.23 412.30,115.07 416.20,118.00 C420.10,120.93 424.00,124.07 427.90,126.80 C431.80,129.53 435.70,131.97 439.60,134.40 C443.50,136.83 447.90,139.22 451.30,141.40 C454.70,143.58 455.78,144.82 460.00,147.50 C464.22,150.18 471.05,154.17 476.60,157.50 C482.15,160.83 488.30,164.32 493.30,167.50 C498.30,170.68 502.45,173.42 506.60,176.60 C510.75,179.78 514.32,183.00 518.20,186.60 C522.08,190.20 526.57,194.32 529.90,198.20 C533.23,202.08 535.70,206.02 538.20,209.90 C540.70,213.78 542.95,217.35 544.90,221.50 C546.85,225.65 548.25,230.35 549.90,234.80 C551.55,239.25 553.07,243.62 554.80,248.20 C556.53,252.78 558.25,256.58 560.30,262.30 C562.35,268.02 564.60,276.40 567.10,282.50 C569.60,288.60 572.22,293.78 575.30,298.90 C578.38,304.02 581.15,308.77 585.60,313.20 C590.05,317.63 596.47,321.82 602.00,325.50 C607.53,329.18 612.47,331.84 618.80,335.30 C625.13,338.76 633.34,342.47 640.00,346.25 C646.66,350.03 653.54,354.74 658.75,358.00 C663.96,361.26 666.56,363.33 671.25,365.80 C675.94,368.27 681.69,370.47 686.90,372.80 C692.11,375.13 697.30,377.45 702.50,379.80 C707.70,382.15 712.89,384.16 718.10,386.90 C723.31,389.64 728.53,393.13 733.75,396.25 C738.97,399.37 744.19,402.61 749.40,405.60 C754.61,408.59 759.90,411.75 765.00,414.20 C770.10,416.65 775.87,418.72 780.00,420.30 C784.13,421.88 786.55,422.65 789.80,423.70 C793.05,424.75 796.25,425.70 799.50,426.60 C802.75,427.50 806.03,428.37 809.30,429.10 C812.57,429.83 815.85,430.35 819.10,431.00 C822.35,431.65 825.55,432.43 828.80,433.00 C832.05,433.57 835.33,433.92 838.60,434.40 C841.87,434.88 845.15,435.40 848.40,435.90 C851.65,436.40 854.85,436.92 858.10,437.40 C861.35,437.88 864.25,438.32 867.90,438.80 C871.55,439.28 876.88,439.92 880.00,440.30 C883.12,440.68 881.83,440.42 886.60,441.10 C891.37,441.78 901.27,443.28 908.60,444.40 C915.93,445.52 923.28,446.82 930.60,447.80 C937.92,448.78 945.18,449.40 952.50,450.30 C959.82,451.20 968.38,452.35 974.50,453.20 C980.62,454.05 986.75,455.03 989.20,455.40" stroke="#000000" stroke-width="3.6" stroke-linecap="round"/>
</g>
<g font-family="Liberation Sans" font-size="31" fill="#000">
<text x="0" y="0" text-anchor="middle" transform="translate(191.72,691.3) scale(1.0,1)">100</text>
<text x="0" y="0" text-anchor="middle" transform="translate(325.57,691.3) scale(1.0,1)">200</text>
<text x="0" y="0" text-anchor="middle" transform="translate(459.42,691.3) scale(1.0,1)">300</text>
<text x="0" y="0" text-anchor="middle" transform="translate(593.26,691.3) scale(1.0,1)">400</text>
<text x="0" y="0" text-anchor="middle" transform="translate(727.11,691.3) scale(1.0,1)">500</text>
<text x="0" y="0" text-anchor="middle" transform="translate(860.95,691.3) scale(1.0,1)">600</text>
<text x="0" y="0" text-anchor="middle" transform="translate(994.80,691.3) scale(1.0,1)">700</text>
<text x="0" y="0" text-anchor="end" transform="translate(111.0,662.20) scale(1.0,1)">0</text>
<text x="0" y="0" text-anchor="end" transform="translate(111.0,601.91) scale(1.0,1)">10</text>
<text x="0" y="0" text-anchor="end" transform="translate(111.0,541.63) scale(1.0,1)">20</text>
<text x="0" y="0" text-anchor="end" transform="translate(111.0,481.34) scale(1.0,1)">30</text>
<text x="0" y="0" text-anchor="end" transform="translate(111.0,421.06) scale(1.0,1)">40</text>
<text x="0" y="0" text-anchor="end" transform="translate(111.0,360.77) scale(1.0,1)">50</text>
<text x="0" y="0" text-anchor="end" transform="translate(111.0,300.49) scale(1.0,1)">60</text>
<text x="0" y="0" text-anchor="end" transform="translate(111.0,240.20) scale(1.0,1)">70</text>
<text x="0" y="0" text-anchor="end" transform="translate(111.0,179.91) scale(1.0,1)">80</text>
<text x="0" y="0" text-anchor="end" transform="translate(111.0,119.63) scale(1.0,1)">90</text>
<text x="0" y="0" text-anchor="end" transform="translate(111.0,59.34) scale(1.0,1)">100</text>
</g>
<g font-family="Liberation Sans" font-weight="bold" font-size="35.3" fill="#000">
<text transform="translate(375.6,762.8) scale(1.013,1)">Temperature</text>
<text x="598.6" y="763.3" font-weight="normal" font-size="33.5" stroke="#000" stroke-width="0.8">(</text>
<text font-weight="normal" font-size="19.1" transform="translate(610.0,742.6) scale(1.25,1)" stroke="#000" stroke-width="0.4">o</text>
<text x="622.9" y="762.8">C</text>
<text x="650.0" y="763.3" font-weight="normal" font-size="33.5" stroke="#000" stroke-width="0.8">)</text>
</g>
<g font-family="Liberation Sans" font-size="41" font-weight="bold" fill="#000">
<text transform="translate(42.4,453.6) rotate(-90) scale(0.851,1)">Weight</text>
<text transform="translate(42.4,327.2) rotate(-90) scale(0.76,1)">(</text>
<text transform="translate(42.4,315.2) rotate(-90) scale(0.73,1)">%</text>
<text transform="translate(42.4,284.9) rotate(-90) scale(0.76,1)">)</text>
</g>
<path d="M226.4,361.6H311.1" stroke="#f00" stroke-width="3.5" stroke-linecap="round" stroke-dasharray="15.5 11.5 0.5 11.5"/>
<path d="M226.4,401.7H311.1" stroke="#00f" stroke-width="3.5" stroke-linecap="round"/>
<path d="M226.4,446H311.1" stroke="#000" stroke-width="3.5" stroke-linecap="round"/>
<g font-family="Liberation Sans" font-size="33">
<text fill="#f00" transform="translate(320.7,372.2) scale(1.09,1)">[VIm][OTf]</text>
<text fill="#00f" transform="translate(320.9,412.0) scale(1.087,1)">SPI3fO/V</text>
<text fill="#00f" font-size="18.5" transform="translate(470.6,425.0) scale(1.1,1)">40</text>
<text fill="#000" transform="translate(320.9,456.6) scale(1.09,1)">SPI3fO</text>
</g>
</svg>
</body></html>
